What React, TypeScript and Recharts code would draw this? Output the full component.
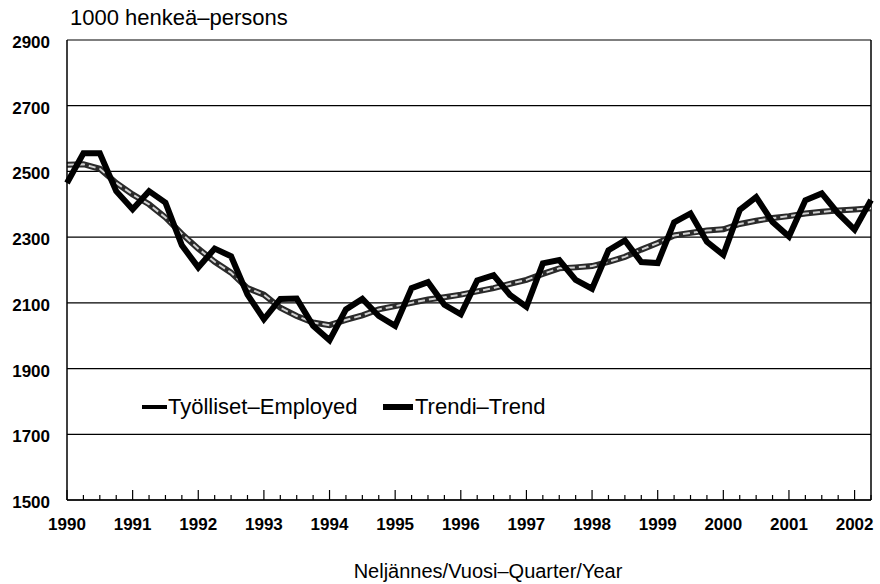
import React from 'react';
import { LineChart, Line, XAxis, YAxis, CartesianGrid, ReferenceLine } from 'recharts';

// Quarterly series, 1990 Q1 .. 2002 Q2 (1000 persons)
const years = [1990, 1991, 1992, 1993, 1994, 1995, 1996, 1997, 1998, 1999, 2000, 2001, 2002];
const employed = [
  2465, 2555, 2555, 2440, 2385, 2440, 2405, 2275, 2208, 2265, 2242, 2125,
  2050, 2112, 2113, 2030, 1986, 2080, 2112, 2060, 2030, 2145, 2163, 2094,
  2065, 2168, 2184, 2124, 2088, 2220, 2230, 2170, 2143, 2260, 2290, 2224,
  2221, 2345, 2372, 2286, 2246, 2383, 2422, 2346, 2302, 2412, 2433, 2372,
  2323, 2413,
];
const trend = [
  2520, 2522, 2508, 2465, 2430, 2400, 2360, 2310, 2265, 2225, 2192, 2145,
  2125, 2085, 2060, 2040, 2032, 2048, 2062, 2080, 2090, 2100, 2110, 2117,
  2125, 2135, 2145, 2158, 2170, 2188, 2205, 2208, 2212, 2225, 2240, 2262,
  2282, 2305, 2313, 2320, 2324, 2340, 2350, 2358, 2364, 2372, 2377, 2381,
  2384, 2388,
];
const yTicks = [1500, 1700, 1900, 2100, 2300, 2500, 2700, 2900];

const data = employed.map((v, i) => ({ q: i, employed: v, trend: trend[i] }));
const quarterTicks = data.map(d => d.q);

const FONT = "'Liberation Sans', Arial, sans-serif";

const QuarterTick = (props: any) => {
  const { x, y, payload } = props;
  const isYear = payload.value % 4 === 0;
  const year = years[payload.value / 4];
  return (
    <g>
      <line x1={x} y1={y} x2={x} y2={y - (isYear ? 10 : 5)} stroke="#000" strokeWidth={1.2} />
      {isYear && year !== undefined && (
        <text x={x} y={y + 30} textAnchor="middle" fill="#000" fontSize={17} fontWeight="bold" fontFamily={FONT}>
          {year}
        </text>
      )}
    </g>
  );
};

const ValueTick = (props: any) => {
  const { x, y, payload } = props;
  return (
    <text x={x - 17} y={y + 8} textAnchor="end" fill="#000" fontSize={17} fontWeight="bold" fontFamily={FONT}>
      {payload.value}
    </text>
  );
};

const legendText: React.CSSProperties = {
  position: 'absolute',
  top: 395,
  fontSize: 22,
  lineHeight: '24px',
  color: '#000',
  whiteSpace: 'nowrap',
};

export default function App() {
  return (
    <div style={{ position: 'absolute', left: 0, top: 0, width: 880, height: 584, background: '#fff', fontFamily: FONT }}>
      <div style={{ position: 'absolute', left: 70, top: 6, fontSize: 22, lineHeight: '24px', color: '#000' }}>
        1000 henkeä–persons
      </div>

      <LineChart width={880} height={584} data={data} margin={{ top: 40, right: 9, left: 7, bottom: 54 }}>
        <CartesianGrid vertical={false} stroke="#000" strokeWidth={1.2} />
        <XAxis
          dataKey="q"
          type="number"
          domain={[0, 49]}
          ticks={quarterTicks}
          interval={0}
          tickSize={0}
          tickMargin={0}
          height={30}
          axisLine={{ stroke: '#000', strokeWidth: 1.5 }}
          tick={<QuarterTick />}
        />
        <YAxis
          type="number"
          domain={[1500, 2900]}
          ticks={yTicks}
          interval={0}
          width={60}
          tickSize={0}
          tickMargin={0}
          axisLine={{ stroke: '#000', strokeWidth: 1.5 }}
          tick={<ValueTick />}
        />
        <ReferenceLine x={49} stroke="#000" strokeWidth={1.5} />
        <Line
          dataKey="trend"
          type="linear"
          stroke="#2a2a2a"
          strokeWidth={6}
          dot={false}
          isAnimationActive={false}
        />
        <Line
          dataKey="trend"
          type="linear"
          stroke="#d0d0d0"
          strokeWidth={2}
          strokeDasharray="7 4"
          dot={false}
          isAnimationActive={false}
        />
        <Line
          dataKey="employed"
          type="linear"
          stroke="#000"
          strokeWidth={6}
          strokeLinejoin="miter"
          dot={false}
          isAnimationActive={false}
        />
      </LineChart>

      <svg width={880} height={30} style={{ position: 'absolute', left: 0, top: 393 }}>
        <line x1={142} y1={14} x2={167} y2={14} stroke="#000" strokeWidth={4} />
        <line x1={383} y1={14} x2={413} y2={14} stroke="#000" strokeWidth={6} />
      </svg>
      <div style={{ ...legendText, left: 168 }}>Työlliset–Employed</div>
      <div style={{ ...legendText, left: 415 }}>Trendi–Trend</div>

      <div style={{ position: 'absolute', left: 352, top: 559, width: 272, textAlign: 'center', fontSize: 20, lineHeight: '24px', color: '#000', whiteSpace: 'nowrap' }}>
        Neljännes/Vuosi–Quarter/Year
      </div>
    </div>
  );
}
